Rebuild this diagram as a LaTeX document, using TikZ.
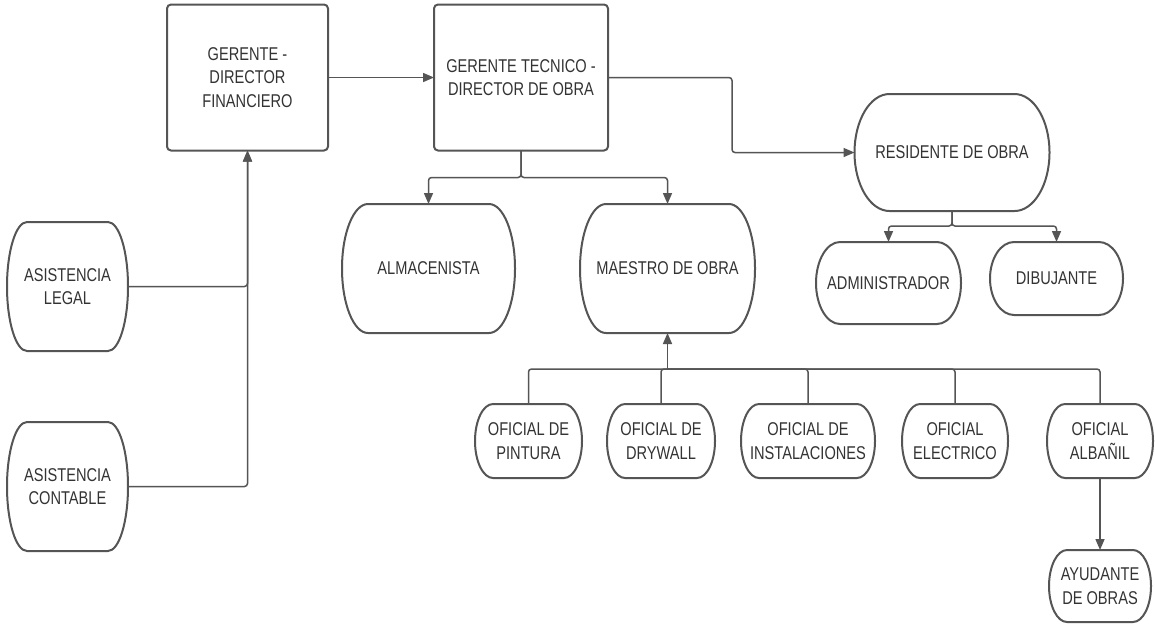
\documentclass[tikz,border=0pt]{standalone}
\usepackage{fontspec}
\setmainfont{Liberation Sans}[FakeStretch=0.79]
\usetikzlibrary{arrows.meta}
\definecolor{edgecol}{HTML}{555555}
\definecolor{txtcol}{HTML}{333333}
\tikzset{
  txt/.style={rectangle, inner sep=0pt, outer sep=0pt, align=center, text=txtcol,
    font=\fontsize{18.5}{23.5}\selectfont},
  shp/.style={draw=edgecol, line width=2pt, line join=round},
  boxnode/.style={txt, draw=edgecol, line width=2pt, rounded corners=4pt},
  conn/.style={draw=edgecol, line width=1.5pt, rounded corners=3pt},
  arr/.style={conn, -{Triangle[length=11pt,width=9pt]}},
}
% name, x, y, w, h, rx, text
\newcommand\pillnode[7]{%
  \node[txt, minimum width=#4pt, minimum height=#5pt] (#1) at (#2,#3) {#7};
  \draw[shp] ([xshift=#6pt]#1.north west) -- ([xshift=-#6pt]#1.north east)
    arc[start angle=90, end angle=0, x radius=#6pt, y radius=0.5*#5pt]
    arc[start angle=0, end angle=-90, x radius=#6pt, y radius=0.5*#5pt]
    -- ([xshift=#6pt]#1.south west)
    arc[start angle=-90, end angle=-180, x radius=#6pt, y radius=0.5*#5pt]
    arc[start angle=180, end angle=90, x radius=#6pt, y radius=0.5*#5pt]
    -- cycle;
}
\begin{document}
\begin{tikzpicture}[x=1pt, y=1pt]
\useasboundingbox[fill=white] (0,0) rectangle (1155,-625);

\node[boxnode, minimum width=161pt, minimum height=146pt] (ger) at (247.5,-77.5) {GERENTE -\\DIRECTOR\\FINANCIERO};
\node[boxnode, minimum width=174pt, minimum height=146pt] (tec) at (521,-77.5) {GERENTE TECNICO -\\DIRECTOR DE OBRA};

\pillnode{res}{952}{-152.5}{195}{117}{35}{RESIDENTE DE OBRA}
\pillnode{alm}{428.5}{-268.5}{173}{129}{26}{ALMACENISTA}
\pillnode{mae}{667.5}{-268.5}{175}{129}{26}{MAESTRO DE OBRA}
\pillnode{adm}{888.5}{-283}{145}{82}{24}{ADMINISTRADOR}
\pillnode{dib}{1056.5}{-278.5}{133}{73}{24}{DIBUJANTE}
\pillnode{leg}{67.5}{-286.5}{121}{129}{20}{ASISTENCIA\\LEGAL}
\pillnode{con}{67.5}{-486.5}{121}{129}{20}{ASISTENCIA\\CONTABLE}
\pillnode{pin}{528.5}{-441}{107}{74}{18}{OFICIAL DE\\PINTURA}
\pillnode{dry}{661}{-441}{108}{74}{18}{OFICIAL DE\\DRYWALL}
\pillnode{ins}{808}{-441}{134}{74}{18}{OFICIAL DE\\INSTALACIONES}
\pillnode{ele}{955}{-441}{106}{74}{18}{OFICIAL\\ELECTRICO}
\pillnode{alb}{1100}{-441}{106}{74}{18}{OFICIAL\\ALBAÑIL}
\pillnode{ayu}{1100}{-586}{102}{72}{18}{AYUDANTE\\DE OBRAS}

% connectors
\draw[arr] (ger.east) -- (tec.west);
\draw[arr] (tec.east) -- ++(124,0) |- (res.west);
\draw[arr] (tec.south) -- ++(0,-27) -| (alm.north);
\draw[arr] (tec.south) -- ++(0,-27) -| (mae.north);
\draw[arr] (res.south) -- ++(0,-15) -| (adm.north);
\draw[arr] (res.south) -- ++(0,-15) -| (dib.north);
\draw[arr] (leg.east) -| (ger.south);
\draw[arr] (con.east) -| (ger.south);

\coordinate (bus) at (667.5,-369);
\draw[conn] (pin.north) |- (bus);
\draw[conn] (dry.north) |- (bus);
\draw[conn] (ins.north) |- (bus);
\draw[conn] (ele.north) |- (bus);
\draw[conn] (alb.north) |- (bus);
\draw[arr] (bus) -- (mae.south);
\draw[arr] (alb.south) -- (ayu.north);
\end{tikzpicture}
\end{document}
